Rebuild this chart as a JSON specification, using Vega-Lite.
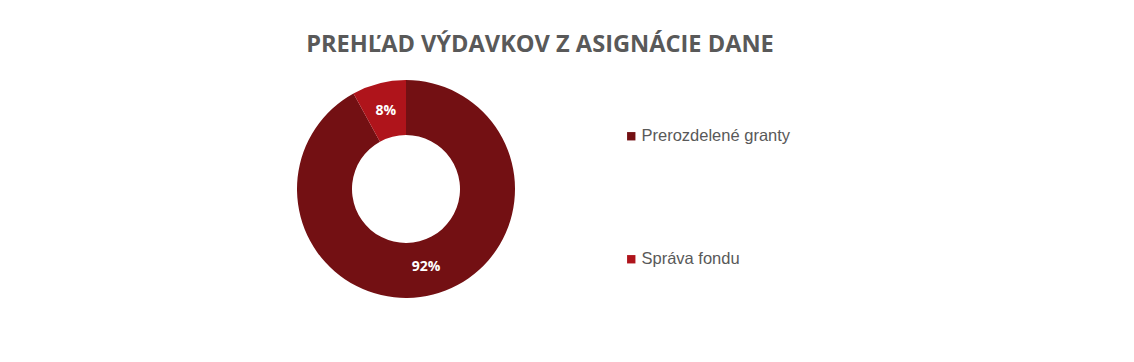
{
  "$schema": "https://vega.github.io/schema/vega-lite/v6.json",
  "width": 218,
  "height": 218,
  "autosize": {"type": "none"},
  "padding": {"left": 297, "top": 80, "right": 619, "bottom": 64},
  "background": "white",
  "title": {
    "text": "PREHĽAD VÝDAVKOV Z ASIGNÁCIE DANE",
    "font": "Open Sans",
    "fontSize": 23.6,
    "fontWeight": "bold",
    "color": "#595959",
    "anchor": "middle",
    "dx": 134,
    "baseline": "alphabetic",
    "offset": 4
  },
  "data": {
    "values": [
      {"category": "Prerozdelené granty", "value": 92, "order": 1, "label": "92%"},
      {"category": "Správa fondu", "value": 8, "order": 2, "label": "8%"}
    ]
  },
  "encoding": {
    "theta": {"field": "value", "type": "quantitative", "stack": true},
    "order": {"field": "order", "type": "quantitative"}
  },
  "layer": [
    {
      "mark": {"type": "arc", "outerRadius": 109, "innerRadius": 54},
      "encoding": {
        "color": {
          "field": "category",
          "type": "nominal",
          "scale": {"domain": ["Prerozdelené granty", "Správa fondu"], "range": ["#731013", "#AF141B"]},
          "legend": {
            "orient": "none",
            "legendX": 326,
            "legendY": 48,
            "title": null,
            "symbolType": "square",
            "symbolSize": 70,
            "symbolStrokeWidth": 0,
            "labelFont": "Liberation Sans",
            "labelFontSize": 16.5,
            "labelColor": "#595959",
            "labelOffset": 2,
            "rowPadding": 106
          }
        }
      }
    },
    {
      "mark": {"type": "text", "radius": 81, "font": "Open Sans", "fontWeight": "bold", "fontSize": 14, "color": "white"},
      "encoding": {"text": {"field": "label", "type": "nominal"}}
    }
  ]
}
